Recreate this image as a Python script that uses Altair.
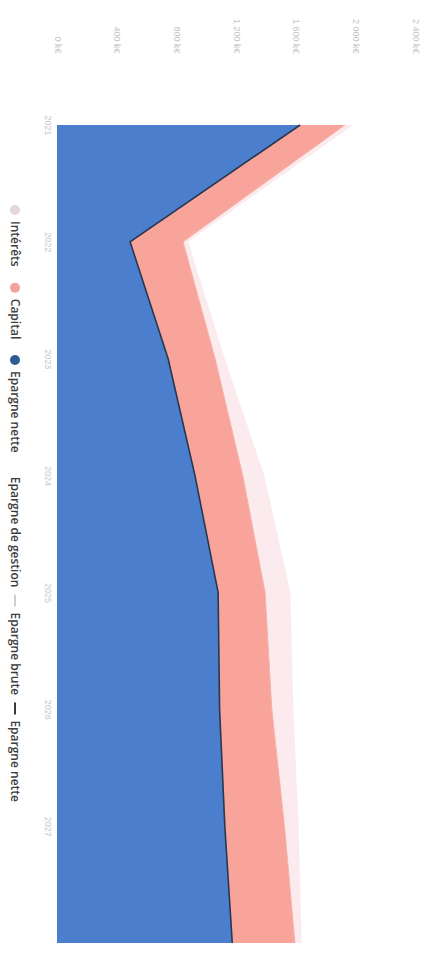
import altair as alt
import pandas as pd

# Savings breakdown per year (k€)
years = [2021, 2022, 2023, 2024, 2025, 2026, 2027, 2028]
epargne_nette = [1630, 490, 745, 925, 1080, 1090, 1125, 1175]
capital = [300, 355, 315, 320, 315, 350, 400, 420]
interets = [55, 35, 65, 145, 170, 145, 95, 45]

value_ticks = [0, 400, 800, 1200, 1600, 2000, 2400]

legend_labels = ["Intérêts", "Capital", "Epargne nette",
                 "Epargne de gestion", "Epargne brute", "Epargne nette"]
legend_kinds = ["circle", "circle", "circle", "none", "line", "line"]
legend_colors = ["#e6d6d8", "#f3a39c", "#2b5d8f", "#ffffff", "#cfcfcf", "#3a3a3a"]

BLUE = "#4b7ecd"
SALMON = "#f8a49b"
PINK = "#fcebee"

# stacked bands: nette at bottom, capital above it, intérêts on top
brute = [n + c for n, c in zip(epargne_nette, capital)]
gestion = [b + i for b, i in zip(brute, interets)]
zeros = [0] * len(years)
table = pd.DataFrame({"year": years, "zero": zeros, "nette": epargne_nette,
                      "brute": brute, "gestion": gestion})

W, H = 358, 818

x_scale = alt.Scale(domain=[0, 2400], nice=False, zero=True)
y_scale = alt.Scale(domain=[years[0], years[-1]], reverse=True, nice=False, zero=False)

x_axis = alt.Axis(orient="top", values=value_ticks, labelAngle=90, labelAlign="right",
                  labelBaseline="middle", labelPadding=72, labelFontSize=9,
                  labelColor="#c4c4c4", domain=False, ticks=False, grid=False, title=None,
                  labelExpr="replace(format(datum.value, ',d'), ',', ' ') + ' k€'")
y_axis = alt.Axis(orient="left", values=years[:-1], format="d", labelAngle=90,
                  labelAlign="center", labelBaseline="middle", labelPadding=10,
                  labelFontSize=9, labelColor="#c8c8c8", domain=False, ticks=False,
                  grid=False, title=None)

base = alt.Chart(table)
Y = alt.Y("year:Q", scale=y_scale, axis=y_axis)


def band(lo, hi, colour):
    return base.mark_area(orient="horizontal", color=colour, opacity=1).encode(
        y=Y,
        x=alt.X(f"{hi}:Q", scale=x_scale, axis=x_axis),
        x2=f"{lo}:Q",
    )


area_int = band("brute", "gestion", PINK)
area_cap = band("nette", "brute", SALMON)
area_net = band("zero", "nette", BLUE)

net_line = base.mark_line(color="#27384f", strokeWidth=1.6).encode(
    y=Y, x=alt.X("nette:Q", scale=x_scale, axis=x_axis), order=alt.Order("year:Q"))
brute_line = base.mark_line(color="#f4b2aa", strokeWidth=1).encode(
    y=Y, x=alt.X("brute:Q", scale=x_scale, axis=x_axis), order=alt.Order("year:Q"))

# hand-built legend, rotated to run down the left edge
char_w = 5.6
pos = 80.0
leg_rows = []
for lab, kind, col in zip(legend_labels, legend_kinds, legend_colors):
    mark_len = 12 if kind == "line" else 10
    leg_rows.append({"label": lab, "kind": kind, "col": col,
                     "m0": pos, "m1": pos + mark_len, "mc": pos + mark_len / 2,
                     "t": pos + mark_len + 6})
    pos += mark_len + 6 + len(lab) * char_w + 17
legend_df = pd.DataFrame(leg_rows)
LX = -42

leg_text = alt.Chart(legend_df).mark_text(
    angle=90, align="left", baseline="middle", fontSize=12, fontWeight=600,
    font="Open Sans", color="#3d3d3d").encode(
    x=alt.value(LX), y=alt.Y("t:Q", scale=None), text="label:N")
leg_dots = alt.Chart(legend_df).transform_filter("datum.kind == 'circle'").mark_point(
    filled=True, size=100, opacity=1).encode(
    x=alt.value(LX), y=alt.Y("mc:Q", scale=None), color=alt.Color("col:N", scale=None))
leg_lines = alt.Chart(legend_df).transform_filter("datum.kind == 'line'").mark_rule(
    strokeWidth=2).encode(
    x=alt.value(LX), y=alt.Y("m0:Q", scale=None), y2="m1:Q",
    color=alt.Color("col:N", scale=None))

chart = alt.layer(area_int, area_cap, area_net, brute_line, net_line,
                  leg_text, leg_dots, leg_lines).properties(
    width=W, height=H,
    autosize=alt.AutoSizeParams(type="none"),
    padding={"left": 57, "top": 125, "right": 15, "bottom": 26},
    background="white",
).configure_view(stroke=None)

chart.save("out.html", embed_options={"renderer": "svg", "actions": False})
